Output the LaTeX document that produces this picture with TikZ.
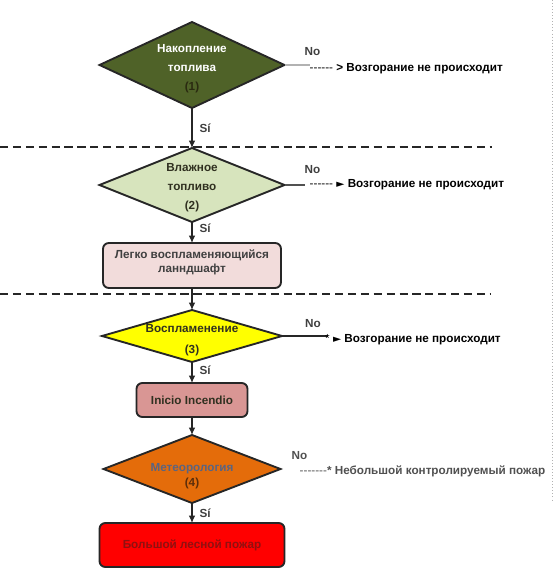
\documentclass[tikz,border=0pt]{standalone}
\usepackage{fontspec}
\setmainfont{Liberation Sans}[Ligatures=TeXOff]
\newfontfamily\symfont{DejaVu Sans}
\usetikzlibrary{arrows.meta, positioning, shapes.geometric, calc}

\definecolor{frame}{HTML}{262626}
\definecolor{fuelgreen}{HTML}{4F6228}
\definecolor{wetgreen}{HTML}{D7E4BD}
\definecolor{landpink}{HTML}{F2DCDB}
\definecolor{ignyellow}{HTML}{FFFF00}
\definecolor{startrose}{HTML}{D99694}
\definecolor{meteoorange}{HTML}{E46C0A}
\definecolor{firered}{HTML}{FF0000}
\definecolor{firetext}{HTML}{901010}
\definecolor{darktext}{HTML}{303020}
\definecolor{numdark}{HTML}{2A2A10}
\definecolor{meteoblue}{HTML}{5A6480}
\definecolor{numbrown}{HTML}{5C2E0A}
\definecolor{labelgray}{HTML}{404040}
\definecolor{smallfire}{HTML}{505050}

% lines of a node, lowered a little; the node size comes from the minimum sizes only
\newcommand{\lowtext}[2]{\raisebox{-#1}[0pt][0pt]{\begin{tabular}{@{}c@{}}#2\end{tabular}}}

\tikzset{
  decision/.style={
    diamond,
    draw=frame,
    line width=1.6pt,
    outer sep=0pt,
    align=center,
    inner xsep=-4pt,
    inner ysep=-4pt,
    font=\fontsize{10pt}{16pt}\selectfont\bfseries
  },
  block/.style={
    rectangle,
    rounded corners=5pt,
    draw=frame,
    line width=1.6pt,
    outer sep=0pt,
    align=center,
    font=\fontsize{10pt}{12pt}\selectfont\bfseries
  },
  arrow/.style={-{Latex[length=2.2mm, width=2mm]}, line width=1.1pt, draw=frame},
  noline/.style={line width=1.4pt},
  yeslabel/.style={right, inner ysep=2pt, inner xsep=6pt, text=labelgray, font=\fontsize{10pt}{12pt}\selectfont\bfseries},
  nolabel/.style={inner sep=0pt, text=labelgray, font=\fontsize{10pt}{12pt}\selectfont\bfseries},
  outcome/.style={anchor=west, inner sep=0pt, font=\fontsize{10pt}{12pt}\selectfont\bfseries},
  sepline/.style={dash pattern=on 7pt off 4pt, line width=2pt, draw=frame}
}

\begin{document}
\begin{tikzpicture}
  \useasboundingbox (0,0) rectangle (16.68,-17.1);

  % separators
  \coordinate (sepA) at (0,-4.41);
  \coordinate (sepB) at (0,-8.82);
  \draw[sepline] (sepA) -- ++(14.76,0);
  \draw[sepline] (sepB) -- ++(14.7,0);
  \draw[dotted, gray!60, line width=0.6pt] (16.56,0) -- (16.56,-15);

  % main chain
  \node[decision, fill=fuelgreen, aspect=2.15, minimum width=5.55cm, minimum height=2.58cm] (fuel) at (5.76,-1.95)
    {\lowtext{5pt}{\textcolor{white}{Накопление}\\\textcolor{white}{топлива}\\\textcolor{numdark}{(1)}}};
  \node[decision, fill=wetgreen, text=darktext, aspect=2.5, minimum width=5.55cm, minimum height=2.22cm, below=1.2cm of fuel] (wet)
    {\lowtext{4pt}{Влажное\\топливо\\(2)}};
  \node[block, fill=landpink, text=labelgray, minimum width=5.34cm, minimum height=1.35cm, below=0.63cm of wet] (land)
    {\lowtext{0.5pt}{Легко воспламеняющийся\\ланндшафт}};
  \node[decision, fill=ignyellow, text=darktext, aspect=3.46, minimum width=5.4cm, minimum height=1.56cm, below=0.66cm of land,
    font=\fontsize{10pt}{18pt}\selectfont\bfseries] (ignite)
    {\lowtext{5pt}{Воспламенение\\(3)}};
  \node[block, fill=startrose, text=darktext, minimum width=3.33cm, minimum height=1.02cm, below=0.63cm of ignite] (start)
    {Inicio Incendio};
  \node[decision, fill=meteoorange, aspect=2.6, minimum width=5.31cm, minimum height=2.04cm, below=0.54cm of start,
    font=\fontsize{10pt}{13pt}\selectfont\bfseries] (meteo)
    {\lowtext{8.5pt}{\textcolor{meteoblue}{Метеорология}\\\textcolor{numbrown}{(4)}}};
  \node[block, fill=firered, text=firetext, minimum width=5.55cm, minimum height=1.32cm, below=0.6cm of meteo] (fire)
    {Большой лесной пожар};

  \draw[arrow] (fuel) -- node[yeslabel]{Sí} (wet);
  \draw[arrow] (wet) -- node[yeslabel, pos=0.3]{Sí} (land);
  \draw[arrow] (land) -- (ignite);
  \draw[arrow] (ignite) -- node[yeslabel, pos=0.4]{Sí} (start);
  \draw[arrow] (start) -- (meteo);
  \draw[arrow] (meteo) -- node[yeslabel]{Sí} (fire);

  % "No" branches
  \coordinate (noA) at ($(fuel.east)+(0.75,0)$);
  \draw[noline, draw=gray!60] (fuel.east) -- (noA);
  \node[nolabel] (noAlbl) at ($(fuel.east)+(0.84,0.39)$) {No};
  \node[outcome] (resA) at ($(fuel.east)+(0.75,-0.1)$) {{\mdseries ------} > Возгорание не происходит};

  \coordinate (noB) at ($(wet.east)+(0.6,0)$);
  \draw[noline, draw=frame!80] (wet.east) -- (noB);
  \node[nolabel] (noBlbl) at ($(wet.east)+(0.84,0.45)$) {No};
  \node[outcome] (resB) at ($(wet.east)+(0.75,0)$) {{\mdseries ------} {\symfont\small ►} Возгорание не происходит};

  \coordinate (noC) at ($(ignite.east)+(1.38,0)$);
  \draw[noline, draw=frame] (ignite.east) -- (noC);
  \node[nolabel] (noClbl) at ($(ignite.east)+(0.93,0.36)$) {No};
  \node[outcome] (resC) at ($(ignite.east)+(1.29,-0.1)$) {{\mdseries *} {\symfont\small ►} Возгорание не происходит};

  \node[nolabel, text=smallfire] (noDlbl) at ($(meteo.east)+(0.57,0.39)$) {No};
  \node[outcome, text=smallfire] (resD) at ($(meteo.east)+(0.57,-0.06)$) {{\mdseries -------}* Небольшой контролируемый пожар};
\end{tikzpicture}
\end{document}
